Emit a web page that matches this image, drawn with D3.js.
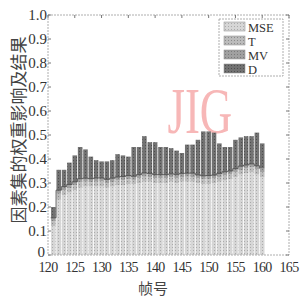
<!DOCTYPE html>
<html>
<head>
<meta charset="utf-8">
<script src="https://cdn.jsdelivr.net/npm/d3@7"></script>
<style>
  body { margin: 0; background: #fff; }
  svg { display: block; }
  .tick-label { font-family: 'Liberation Serif', 'DejaVu Serif', serif; font-size: 15px; fill: #333; }
  .xlab { font-size: 14px; letter-spacing: -0.7px; }
  .legend-label { font-family: 'Liberation Serif', 'DejaVu Serif', serif; font-size: 12.5px; fill: #333; }
  .axis-title { font-family: 'Noto Sans CJK SC', sans-serif; font-size: 17px; fill: #444; }
  .x-title { font-size: 15px; }
</style>
</head>
<body>
<div id="chart"></div>
<script>
const frames = [121, 122, 123, 124, 125, 126, 127, 128, 129, 130,
  131, 132, 133, 134, 135, 136, 137, 138, 139, 140,
  141, 142, 143, 144, 145, 146, 147, 148, 149, 150,
  151, 152, 153, 154, 155, 156, 157, 158, 159, 160]

const mseValues = [0.12, 0.23, 0.25, 0.26, 0.27, 0.28, 0.285, 0.285, 0.285, 0.285,
  0.28, 0.285, 0.29, 0.29, 0.295, 0.295, 0.30, 0.305, 0.305, 0.30,
  0.30, 0.30, 0.305, 0.30, 0.305, 0.305, 0.305, 0.30, 0.295, 0.295,
  0.30, 0.305, 0.31, 0.315, 0.325, 0.335, 0.34, 0.345, 0.335, 0.325]

const tValues = [0.02, 0.025, 0.02, 0.018, 0.02, 0.022, 0.02, 0.018, 0.02, 0.021,
  0.02, 0.019, 0.02, 0.022, 0.02, 0.018, 0.02, 0.021, 0.02, 0.02,
  0.019, 0.02, 0.018, 0.02, 0.02, 0.021, 0.02, 0.019, 0.02, 0.02,
  0.018, 0.02, 0.021, 0.02, 0.02, 0.019, 0.02, 0.02, 0.021, 0.02]

const mvValues = [0.015, 0.015, 0.015, 0.016, 0.015, 0.016, 0.015, 0.015, 0.016, 0.015,
  0.015, 0.016, 0.015, 0.015, 0.016, 0.015, 0.015, 0.016, 0.015, 0.015,
  0.016, 0.015, 0.015, 0.016, 0.015, 0.015, 0.016, 0.015, 0.015, 0.016,
  0.015, 0.015, 0.016, 0.015, 0.015, 0.016, 0.015, 0.015, 0.016, 0.015]

const dValues = [0.045, 0.085, 0.07, 0.091, 0.11, 0.132, 0.12, 0.092, 0.074, 0.069,
  0.075, 0.075, 0.095, 0.088, 0.079, 0.122, 0.115, 0.153, 0.13, 0.135,
  0.115, 0.115, 0.107, 0.099, 0.085, 0.119, 0.119, 0.146, 0.185, 0.184,
  0.177, 0.125, 0.103, 0.10, 0.12, 0.12, 0.12, 0.115, 0.138, 0.105]

const seriesNames = ['MSE', 'T', 'MV', 'D']
const xTicks = [120, 125, 130, 135, 140, 145, 150, 155, 160, 165]
const yTicks = [0, 0.1, 0.2, 0.3, 0.4, 0.5, 0.6, 0.7, 0.8, 0.9, 1.0]

const width = 302
const height = 298
const margin = { top: 15, right: 13, bottom: 43, left: 48 }

const fills = { MSE: '#d6d6d6', T: '#bcbcbc', MV: '#a0a0a0', D: '#727272' }
const dotColors = { MSE: '#ababab', T: '#8c8c8c', MV: '#7a7a7a', D: '#4e4e4e' }

const rows = frames.map((f, i) => ({
  frame: f,
  MSE: mseValues[i],
  T: tValues[i],
  MV: mvValues[i],
  D: dValues[i]
}))

const svg = d3.select('#chart')
  .append('svg')
  .attr('width', width)
  .attr('height', height)

const defs = svg.append('defs')
seriesNames.forEach(name => {
  const p = defs.append('pattern')
    .attr('id', 'pat-' + name)
    .attr('patternUnits', 'userSpaceOnUse')
    .attr('width', 3)
    .attr('height', 3)
  p.append('rect').attr('width', 3).attr('height', 3).attr('fill', fills[name])
  p.append('rect').attr('x', 1).attr('y', 1).attr('width', 1).attr('height', 1).attr('fill', dotColors[name])
})

const x = d3.scaleLinear()
  .domain([120, 165])
  .range([margin.left, width - margin.right])

const y = d3.scaleLinear()
  .domain([0, 1])
  .range([height - margin.bottom, margin.top])

const stack = d3.stack().keys(seriesNames)
const layers = stack(rows)

const barWidth = x(120.85) - x(120)

// watermark (under the bars)
svg.append('text')
  .attr('transform', `translate(${x(142.3)},${y(0.51)}) scale(0.68,1)`)
  .attr('font-family', 'Liberation Serif, serif')
  .attr('font-size', 66)
  .attr('fill', '#f7b7b7')
  .text('JIG')

svg.append('g')
  .attr('class', 'layers')
  .selectAll('g')
  .data(layers)
  .enter()
  .append('g')
  .attr('fill', d => `url(#pat-${d.key})`)
  .selectAll('rect')
  .data(d => d)
  .enter()
  .append('rect')
  .attr('x', d => x(d.data.frame) - barWidth / 2)
  .attr('width', barWidth)
  .attr('y', d => y(d[1]))
  .attr('height', d => y(d[0]) - y(d[1]))

// dark boundary line under the D layer
const mvLayer = layers[2]
svg.append('path')
  .datum(mvLayer)
  .attr('fill', 'none')
  .attr('stroke', '#444')
  .attr('stroke-width', 0.8)
  .attr('d', d3.line()
    .curve(d3.curveStepAfter)
    .x(d => x(d.data.frame) - 0.5 * (x(121) - x(120)))
    .y(d => y(d[1])))

// axes box
const box = svg.append('g').attr('class', 'box')
box.append('rect')
  .attr('x', margin.left)
  .attr('y', margin.top)
  .attr('width', width - margin.left - margin.right)
  .attr('height', height - margin.top - margin.bottom)
  .attr('fill', 'none')
  .attr('stroke', '#999')
  .attr('stroke-width', 0.8)
  .attr('stroke-dasharray', '2,1')

const tickLen = 3
box.selectAll('line.ytick')
  .data(yTicks)
  .enter()
  .append('line')
  .attr('class', 'ytick')
  .attr('x1', margin.left)
  .attr('x2', margin.left + tickLen)
  .attr('y1', d => y(d))
  .attr('y2', d => y(d))
  .attr('stroke', '#777')
box.selectAll('line.ytick-r')
  .data(yTicks)
  .enter()
  .append('line')
  .attr('class', 'ytick-r')
  .attr('x1', width - margin.right)
  .attr('x2', width - margin.right - tickLen)
  .attr('y1', d => y(d))
  .attr('y2', d => y(d))
  .attr('stroke', '#777')
box.selectAll('line.xtick-t')
  .data(xTicks)
  .enter()
  .append('line')
  .attr('class', 'xtick-t')
  .attr('x1', d => x(d))
  .attr('x2', d => x(d))
  .attr('y1', margin.top)
  .attr('y2', margin.top + tickLen)
  .attr('stroke', '#777')

svg.selectAll('text.ylab')
  .data(yTicks)
  .enter()
  .append('text')
  .attr('class', 'tick-label ylab')
  .attr('x', d => d === 0 ? margin.left - 3 : margin.left - 1)
  .attr('y', d => d === 0 ? y(d) + 2 : y(d) + 5)
  .attr('text-anchor', 'end')
  .text(d => d === 0 ? '0' : d3.format('.1f')(d))

svg.selectAll('text.xlab')
  .data(xTicks)
  .enter()
  .append('text')
  .attr('class', 'tick-label xlab')
  .attr('x', d => x(d))
  .attr('y', height - margin.bottom + 17)
  .attr('text-anchor', 'middle')
  .text(d => d)

svg.append('text')
  .attr('class', 'axis-title x-title')
  .attr('x', 153)
  .attr('y', height - 4.5)
  .attr('text-anchor', 'middle')
  .text('帧号')

svg.append('text')
  .attr('class', 'axis-title')
  .attr('transform', `translate(25,130) rotate(-90)`)
  .attr('text-anchor', 'middle')
  .text('因素集的权重影响及结果')

// legend
const legend = svg.append('g').attr('transform', 'translate(219,19)')
legend.append('rect')
  .attr('width', 64)
  .attr('height', 57)
  .attr('fill', '#fff')
  .attr('stroke', '#999')
  .attr('stroke-width', 0.8)
  .attr('stroke-dasharray', '2,1')
const items = legend.selectAll('g.item')
  .data(seriesNames)
  .enter()
  .append('g')
  .attr('class', 'item')
  .attr('transform', (d, i) => `translate(5,${3 + i * 14})`)
items.append('rect')
  .attr('width', 21)
  .attr('height', 9)
  .attr('fill', d => `url(#pat-${d})`)
  .attr('stroke', '#888')
  .attr('stroke-width', 0.5)
items.append('text')
  .attr('class', 'legend-label')
  .attr('x', 24)
  .attr('y', 9.5)
  .text(d => d)
</script>
</body>
</html>
